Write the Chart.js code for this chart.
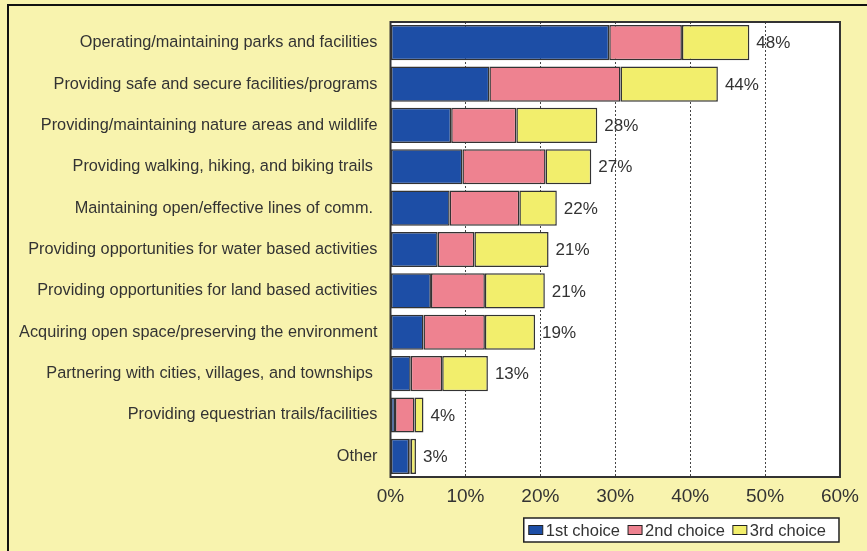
<!DOCTYPE html>
<html>
<head>
<meta charset="utf-8">
<title>Priorities</title>
<script src="https://cdn.jsdelivr.net/npm/chart.js@4/dist/chart.umd.min.js"></script>
<style>
  html, body { margin: 0; padding: 0; background: #f8f3ae; }
  #wrap { position: relative; width: 867px; height: 551px; }
</style>
</head>
<body>
<div id="wrap"><canvas id="chart" width="867" height="551"></canvas></div>
<script>
const categories = [
  "Operating/maintaining parks and facilities",
  "Providing safe and secure facilities/programs",
  "Providing/maintaining nature areas and wildlife",
  "Providing walking, hiking, and biking trails ",
  "Maintaining open/effective lines of comm. ",
  "Providing opportunities for water based activities",
  "Providing opportunities for land based activities",
  "Acquiring open space/preserving the environment",
  "Partnering with cities, villages, and townships ",
  "Providing equestrian trails/facilities",
  "Other",
];

const firstChoice = [29.2, 13.2, 8.1, 9.6, 7.9, 6.3, 5.4, 4.4, 2.7, 0.6, 2.5];
const secondChoice = [9.7, 17.5, 8.7, 11.1, 9.3, 4.9, 7.2, 8.2, 4.2, 2.6, 0.2];
const thirdChoice = [9.0, 13.0, 10.8, 6.1, 5.0, 9.9, 8.0, 6.7, 6.1, 1.2, 0.7];

const seriesNames = ["1st choice", "2nd choice", "3rd choice"];
const seriesColors = ["#1d4ea6", "#ee8290", "#f2ee6c"];

const xTicks = [0, 10, 20, 30, 40, 50, 60];

const TEXT = "#333333";
const FONT = "'Liberation Sans', Arial, sans-serif";

// yellow page, black frame and white plot area
const backdrop = {
  id: "backdrop",
  beforeDraw(chart) {
    const { ctx, chartArea } = chart;
    ctx.save();
    ctx.fillStyle = "#f8f3ae";
    ctx.fillRect(0, 0, chart.width, chart.height);
    ctx.fillStyle = "#ffffff";
    ctx.fillRect(chartArea.left, chartArea.top, chartArea.right - chartArea.left, chartArea.bottom - chartArea.top);
    ctx.strokeStyle = "#111111";
    ctx.lineWidth = 2;
    ctx.beginPath();
    ctx.moveTo(8, chart.height);
    ctx.lineTo(8, 5);
    ctx.lineTo(chart.width, 5);
    ctx.stroke();
    ctx.restore();
  },
  afterDraw(chart) {
    const { ctx, chartArea } = chart;
    ctx.save();
    ctx.strokeStyle = "#333333";
    ctx.lineWidth = 2;
    ctx.strokeRect(chartArea.left, chartArea.top, chartArea.right - chartArea.left, chartArea.bottom - chartArea.top);
    ctx.restore();
  },
};

// total percentage written after each bar
const totals = {
  id: "totals",
  afterDatasetsDraw(chart) {
    const { ctx } = chart;
    const last = chart.getDatasetMeta(chart.data.datasets.length - 1);
    ctx.save();
    ctx.font = "17px " + FONT;
    ctx.fillStyle = TEXT;
    ctx.textBaseline = "middle";
    ctx.textAlign = "left";
    last.data.forEach((bar, i) => {
      const sum = chart.data.datasets.reduce((acc, ds) => acc + ds.data[i], 0);
      ctx.fillText(Math.round(sum) + "%", bar.x + 7, bar.y + 1);
    });
    ctx.restore();
  },
};

// boxed legend under the plot, right aligned
const boxLegend = {
  id: "boxLegend",
  afterDraw(chart) {
    const { ctx, chartArea } = chart;
    ctx.save();
    ctx.font = "16.5px " + FONT;
    const sw = 14, sh = 9, gap = 3, itemGap = 8, padL = 5, padR = 13;
    const widths = seriesNames.map((n) => sw + gap + ctx.measureText(n).width);
    const total = widths.reduce((a, b) => a + b, 0) + itemGap * (widths.length - 1) + padL + padR;
    const right = chartArea.right - 1;
    const left = right - total;
    const top = 518, h = 24;
    ctx.fillStyle = "#ffffff";
    ctx.fillRect(left, top, total, h);
    ctx.strokeStyle = "#222222";
    ctx.lineWidth = 1.5;
    ctx.strokeRect(left, top, total, h);
    let x = left + padL;
    const cy = top + h / 2;
    seriesNames.forEach((name, i) => {
      ctx.fillStyle = seriesColors[i];
      ctx.fillRect(x, cy - sh / 2, sw, sh);
      ctx.strokeStyle = "#222222";
      ctx.lineWidth = 1;
      ctx.strokeRect(x, cy - sh / 2, sw, sh);
      ctx.fillStyle = TEXT;
      ctx.textBaseline = "middle";
      ctx.fillText(name, x + sw + gap, cy + 1);
      x += widths[i] + itemGap;
    });
    ctx.restore();
  },
};

const datasets = [firstChoice, secondChoice, thirdChoice].map((values, i) => ({
  label: seriesNames[i],
  data: values,
  backgroundColor: seriesColors[i],
  borderColor: "#333333",
  borderWidth: 1.5,
  borderSkipped: false,
  barPercentage: 0.85,
  categoryPercentage: 1,
}));

new Chart(document.getElementById("chart"), {
  type: "bar",
  data: { labels: categories, datasets },
  options: {
    indexAxis: "y",
    responsive: false,
    animation: false,
    layout: { padding: { left: 10, right: 25, top: 22, bottom: 44 } },
    plugins: {
      legend: { display: false },
      tooltip: { enabled: false },
    },
    scales: {
      x: {
        stacked: true,
        min: 0,
        max: 60,
        afterBuildTicks: (scale) => {
          scale.ticks = xTicks.map((v) => ({ value: v }));
        },
        afterFit: (scale) => {
          scale.height = 30;
        },
        // dashed vertical gridlines
        border: { display: false, dash: [2, 2] },
        grid: {
          color: "#444444",
          lineWidth: 1,
          drawTicks: false,
        },
        ticks: {
          color: TEXT,
          font: { family: FONT, size: 19 },
          padding: 8,
          maxRotation: 0,
          callback: (v) => v + "%",
        },
      },
      y: {
        stacked: true,
        afterFit: (scale) => {
          scale.width = 380.5;
        },
        border: { display: false },
        grid: { display: false },
        ticks: {
          color: TEXT,
          font: { family: FONT, size: 16.3 },
          padding: 5,
          autoSkip: false,
        },
      },
    },
  },
  plugins: [backdrop, totals, boxLegend],
});
</script>
</body>
</html>
